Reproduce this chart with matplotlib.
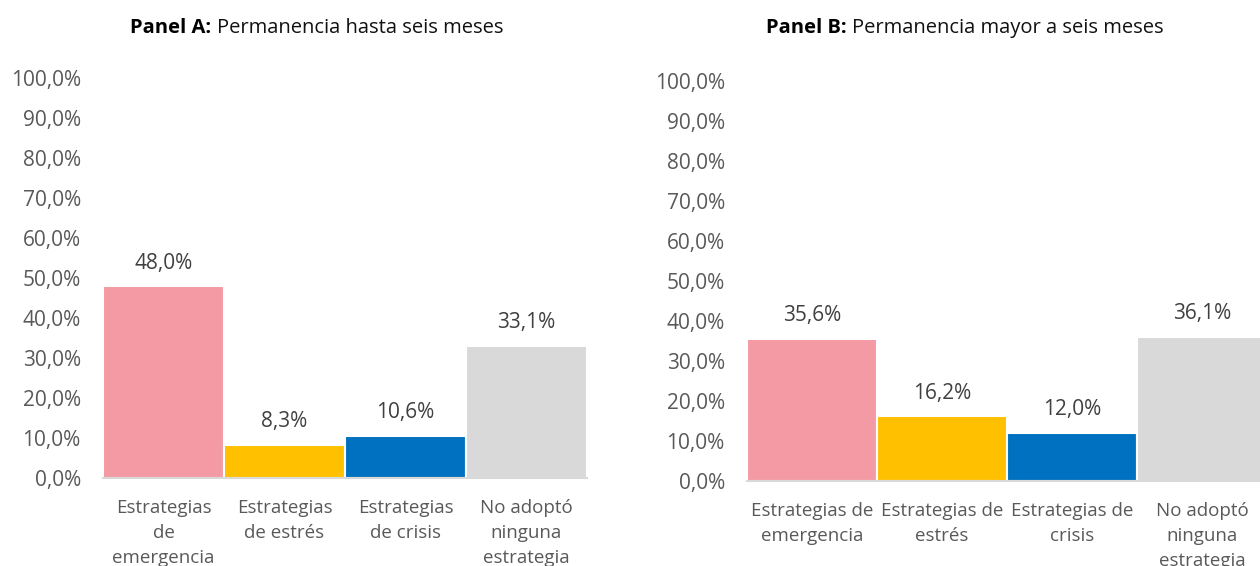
import numpy as np
import matplotlib
matplotlib.use("Agg")
import matplotlib.pyplot as plt

# datos
labels_a = ["Estrategias\nde\nemergencia", "Estrategias\nde estrés", "Estrategias\nde crisis", "No adoptó\nninguna\nestrategia"]
labels_b = ["Estrategias de\nemergencia", "Estrategias de\nestrés", "Estrategias de\ncrisis", "No adoptó\nninguna\nestrategia"]
values_a = [48.0, 8.3, 10.6, 33.1]
values_b = [35.6, 16.2, 12.0, 36.1]
colors = ["#F39AA4", "#FFC000", "#0070C0", "#D9D9D9"]
yticks = [0, 10, 20, 30, 40, 50, 60, 70, 80, 90, 100]

plt.rcParams['font.family'] = ['Open Sans', 'DejaVu Sans']
gray = "#595959"

fig = plt.figure(figsize=(12.6, 5.66), dpi=100)
W, H = 1260, 566


def panel(rect, labels, values, title_bold, title_rest, title_x):
    ax = fig.add_axes(rect)
    x = np.arange(len(values))
    ax.bar(x, values, width=1.0, color=colors, edgecolor="white", linewidth=1.5)
    ax.set_xlim(-0.5, len(values) - 0.5)
    ax.set_ylim(0, 100)
    ax.set_yticks(yticks)
    ax.set_yticklabels([f"{v:.1f}%".replace(".", ",") for v in yticks])
    ax.set_xticks(x)
    ax.set_xticklabels(labels, linespacing=1.5)
    ax.tick_params(axis="y", length=0, labelsize=15, labelcolor=gray, pad=16)
    ax.tick_params(axis="x", length=0, labelsize=13.5, labelcolor=gray, pad=15)
    for s in ["top", "right", "left"]:
        ax.spines[s].set_visible(False)
    ax.spines["bottom"].set_color("#D9D9D9")
    ax.spines["bottom"].set_linewidth(1.5)
    for xi, v in zip(x, values):
        ax.annotate(f"{v:.1f}%".replace(".", ","), (xi, v), xytext=(0, 9),
                    textcoords="offset points", ha="center", va="bottom",
                    fontsize=15, color="#404040")
    t1 = fig.text(title_x / W, 1 - 28 / H, title_bold, fontsize=14.5, fontweight="bold",
                  color="black", va="center", ha="left")
    ax.annotate(title_rest, xy=(1, 0.5), xycoords=t1, xytext=(4, 0),
                textcoords="offset points", va="center", ha="left",
                fontsize=14.5, color="#111111")
    return ax


panel([103 / W, 88 / H, 484 / W, 400 / H], labels_a, values_a,
      "Panel A:", "Permanencia hasta seis meses", 130)
panel([747 / W, 85 / H, 520 / W, 400 / H], labels_b, values_b,
      "Panel B:", "Permanencia mayor a seis meses", 766)

fig.savefig("out.png", dpi=100)
